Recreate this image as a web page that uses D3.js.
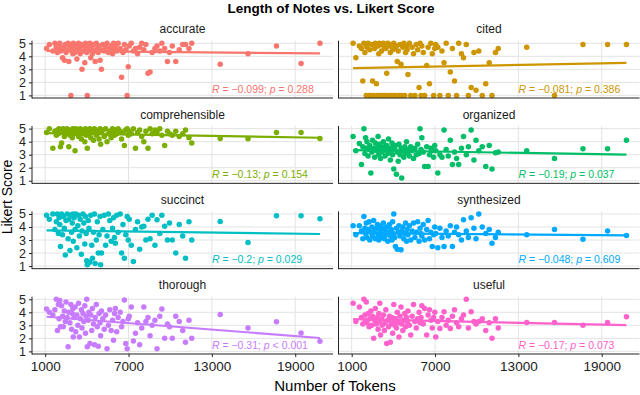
<!DOCTYPE html>
<html><head><meta charset="utf-8">
<script src="https://cdn.jsdelivr.net/npm/d3@7"></script>
<style>body{margin:0;background:#fff} svg{display:block;font-family:"Liberation Sans",Arial,Helvetica,sans-serif}</style>
</head><body><svg id="c" width="640" height="395"></svg>
<script>
const metrics = ["accurate","cited","comprehensible","organized","succinct","synthesized","thorough","useful"];
const colors = ["#F8766D","#CD9600","#7CAE00","#00BE67","#00BFC4","#00A9FF","#C77CFF","#FF61CC"];
const xTicks = [1000, 7000, 13000, 19000];
const yTicks = [1, 2, 3, 4, 5];

const tokens = [
1100,1300,1550,1700,1800,1880,1950,2000,
2050,2100,2180,2250,2300,2380,2450,2500,2580,2650,2700,2780,2850,2900,2950,2990,
3020,3080,3150,3200,3280,3350,3400,3460,3520,3600,3650,3720,3780,3850,3900,3950,3990,
4030,4100,4150,4220,4280,4350,4400,4480,4550,4600,4680,4750,4820,4880,4950,4990,
5050,5150,5250,5350,5450,5550,5650,5750,5850,5920,5990,
6050,6150,6250,6400,6500,6600,6700,6800,6900,6980,
7050,7200,7350,7500,7650,7800,7950,
8100,8250,8400,8550,8700,8900,
9050,9250,9400,9600,9800,9950,
10150,10400,10650,10900,
11100,11350,11550,
13600,15600,17650,19420,20780];

const accurate = [
4.6,4.9,4.4,5.0,4.7,4.3,4.8,4.5,
5.0,4.4,4.7,3.9,4.6,3.7,4.9,4.3,4.5,5.0,3.6,4.8,1.0,4.4,4.7,4.2,
5.0,4.6,4.3,4.9,3.8,4.5,5.0,4.7,4.2,4.9,3.0,4.4,4.8,3.5,5.0,4.6,4.3,
1.0,4.8,4.5,5.0,3.9,4.7,4.2,4.9,4.4,3.6,5.0,4.6,4.3,4.8,3.7,4.5,
3.0,4.9,4.4,4.7,5.0,4.3,4.6,4.8,4.2,5.0,4.5,
4.7,4.4,5.0,4.6,2.4,4.3,4.9,4.5,1.0,3.2,
4.8,5.0,4.4,4.6,4.2,4.7,5.0,
4.5,4.9,2.7,2.8,4.3,4.6,
4.8,4.4,5.0,4.6,3.6,4.3,
4.8,3.6,4.5,4.9,
4.9,4.6,5.0,
3.4,4.2,4.8,3.45,5.0];

const cited = [
5.0,3.9,4.8,4.6,2.1,5.0,4.3,4.9,
1.0,4.7,5.0,1.0,4.5,1.0,4.9,2.1,1.0,4.6,5.0,1.9,1.0,4.8,4.2,5.0,
1.0,4.9,4.4,1.0,5.0,4.7,1.0,4.6,2.7,5.0,1.0,4.8,4.3,1.0,4.9,4.5,1.0,
5.0,4.6,1.0,4.8,3.6,4.4,1.0,4.9,3.4,1.0,4.7,5.0,1.0,4.3,4.8,4.5,
2.6,5.0,1.0,4.7,4.2,1.0,4.9,4.5,1.6,5.0,1.0,
4.8,4.3,1.0,3.3,4.7,1.9,5.0,4.2,1.0,4.6,
4.9,4.7,1.0,4.4,3.5,5.0,1.0,
2.8,4.6,2.1,1.0,5.0,4.2,
3.9,4.9,1.0,1.6,4.3,1.4,
4.4,1.0,1.9,3.5,
1.0,4.3,4.6,
4.7,1.0,4.9,4.9,4.9];

const comprehensible = [
4.7,5.0,3.5,4.8,4.5,4.9,4.6,5.0,
4.8,3.6,3.9,4.7,5.0,4.4,4.9,4.6,5.0,4.8,3.6,4.5,4.9,4.7,4.3,5.0,
4.8,4.6,3.3,5.0,4.7,4.9,4.4,4.8,5.0,4.2,4.6,4.9,4.7,4.0,5.0,4.5,4.8,
3.5,4.9,4.6,5.0,4.3,4.8,4.7,4.1,5.0,4.9,4.5,4.6,4.8,4.2,5.0,3.8,
4.7,4.9,4.4,5.0,4.0,4.6,4.8,4.3,5.0,4.7,4.5,
4.9,4.6,5.0,4.8,4.2,4.7,3.7,4.9,5.0,4.5,
4.8,4.6,5.0,3.5,4.7,4.9,4.4,
4.0,4.8,3.5,5.0,4.6,4.9,
4.7,5.0,4.5,3.7,4.8,4.6,
4.5,4.8,4.4,4.6,
4.9,4.3,3.9,
4.25,4.23,4.7,4.7,4.25];

const organized = [
4.4,3.3,3.85,2.25,3.6,5.0,3.1,4.3,
3.5,4.0,2.9,3.4,3.7,1.6,3.2,4.1,3.5,2.8,3.9,3.3,3.6,4.4,3.0,3.4,
3.8,2.7,3.5,3.2,4.0,3.6,2.9,3.4,3.7,3.1,4.2,3.5,2.6,3.3,3.9,3.0,3.6,
1.9,3.4,3.7,1.5,3.2,2.5,3.8,3.0,3.5,1.2,3.3,2.8,3.6,3.1,4.0,3.4,
3.2,2.9,3.6,3.3,2.7,3.5,3.0,3.8,3.1,5.0,3.4,
4.3,3.2,2.1,3.6,2.1,3.0,3.5,3.3,2.8,3.7,
3.3,1.6,3.0,2.8,4.9,3.4,2.9,
4.1,2.25,3.2,2.7,2.25,3.5,
4.4,3.0,3.6,4.9,2.6,4.1,
3.3,3.6,2.1,3.7,
1.9,3.15,3.2,
3.3,2.7,3.45,3.45,4.1];

const succinct = [
4.9,4.6,5.0,3.8,4.4,5.0,3.5,4.7,
4.2,2.5,5.0,3.4,4.8,3.9,1.85,4.5,5.0,3.1,4.6,2.2,4.9,3.6,4.3,5.0,
2.9,4.7,3.8,5.0,2.4,4.1,4.9,3.3,4.6,1.9,3.7,5.0,4.3,2.7,4.8,3.5,1.4,
1.1,4.5,3.9,1.3,4.9,2.6,1.6,3.6,5.0,1.2,3.0,4.4,2.0,3.4,4.8,1.1,
2.0,3.8,4.9,2.6,3.3,5.0,4.5,2.9,3.9,4.7,3.2,
2.75,4.9,3.6,5.0,2.0,4.2,1.6,3.4,4.8,3.0,
4.6,2.6,1.35,3.8,4.4,2.3,4.0,
4.05,3.0,4.6,3.1,4.9,2.6,
4.55,3.5,4.9,4.05,3.0,4.3,
3.0,2.0,4.2,3.3,
1.6,4.4,3.0,
4.43,2.8,4.87,4.87,4.64];

const synthesized = [
4.1,3.4,4.1,3.7,3.1,4.8,3.9,3.5,
4.3,3.2,3.8,4.4,3.0,3.6,4.0,3.3,4.5,3.7,3.1,3.9,4.2,3.4,3.0,3.8,
4.1,3.5,3.2,3.9,4.3,3.1,3.7,3.4,4.0,2.9,3.6,4.2,3.3,3.8,3.0,4.4,3.5,
5.0,3.2,2.5,3.9,2.3,3.6,4.1,3.3,2.25,3.7,4.0,3.1,3.5,4.3,2.9,3.8,
3.4,4.1,3.0,3.7,4.3,3.2,3.6,4.4,2.9,3.9,3.5,
3.3,4.2,3.0,3.8,4.5,3.1,3.6,2.5,3.4,4.0,
3.5,2.4,3.9,3.2,2.5,3.7,3.3,
4.1,2.5,3.6,4.0,3.4,3.0,
4.55,3.7,3.2,4.7,3.9,3.1,
5.0,4.0,3.5,3.8,
2.75,3.2,3.6,
3.4,3.8,3.06,3.7,3.35];

const thorough = [
4.25,4.0,3.8,4.2,5.0,2.6,4.6,3.5,
4.9,2.9,4.5,3.7,2.9,4.1,3.3,4.8,3.6,1.35,4.0,3.2,4.6,2.7,3.9,4.3,
2.1,3.6,4.4,2.5,3.8,3.0,4.7,2.1,3.5,4.2,2.8,3.9,3.3,4.5,2.4,3.7,5.0,
1.35,3.4,4.0,1.6,3.8,2.6,4.3,3.1,1.5,3.6,4.6,2.9,1.4,3.9,3.2,2.2,
4.1,3.5,2.7,3.8,1.2,3.0,4.2,2.6,3.4,1.85,3.9,
4.3,2.5,3.6,4.0,2.9,3.3,4.95,1.6,1.2,3.5,
3.7,4.4,1.8,2.4,3.2,1.5,2.8,
4.4,3.3,3.6,2.2,3.0,3.4,
1.2,3.7,4.25,2.0,3.1,2.9,
2.0,3.7,3.3,2.6,
1.7,3.4,2.0,
3.84,2.8,3.27,2.42,1.77];

const useful = [
4.7,3.3,4.4,3.6,3.1,5.0,3.8,3.4,
4.8,3.2,3.9,2.9,3.5,4.1,3.0,3.7,2.0,3.4,4.3,3.1,3.6,2.7,3.9,3.3,
4.7,2.25,3.5,3.0,3.8,2.6,3.2,4.2,1.6,3.4,2.9,3.7,1.7,3.1,3.6,2.4,3.3,
4.6,3.0,3.5,2.8,4.0,3.2,2.1,3.7,4.4,3.1,2.6,3.4,3.9,2.9,3.6,3.3,
4.1,3.0,2.25,3.7,4.6,3.3,2.8,3.5,4.0,3.2,3.6,
4.5,3.1,4.3,2.25,3.8,4.2,3.4,2.8,3.6,4.0,
2.1,3.3,2.75,3.6,4.05,3.0,3.4,
2.75,3.7,4.2,3.2,2.9,3.5,
3.8,5.0,2.8,4.05,3.3,3.1,
3.3,3.5,2.6,3.2,
2.0,3.5,2.8,
3.22,3.22,3.0,3.22,3.66];

const scores = [accurate, cited, comprehensible, organized, succinct, synthesized, thorough, useful];
// fitted trend values at the smallest and largest token counts
const fitStart = [4.42, 3.1, 4.65, 3.35, 3.74, 3.53, 3.66, 3.48];
const fitEnd   = [4.22, 3.5, 4.3, 3.0, 3.46, 3.35, 2.03, 3.01];
const rLabels = ["\u22120.099","\u22120.081","\u22120.13","\u22120.19","\u22120.2","\u22120.048","\u22120.31","\u22120.17"];
const pLabels = ["= 0.288","= 0.386","= 0.154","= 0.037","= 0.029","= 0.609","< 0.001","= 0.073"];

const svg = d3.select("#c");
const panelW = 301, panelH = 57.3;
const lefts = [32, 338.5];
const top0 = 40.7, rowStep = 85.33;

const x = d3.scaleLinear().domain([50, 21720]).range([0, panelW]);
const y = d3.scaleLinear().domain([0.8, 5.2]).range([panelH, 0]);

// Title
svg.append("text").attr("x", 331).attr("y", 12.5).attr("text-anchor", "middle")
  .attr("font-size", 13.5).attr("font-weight", "bold").attr("fill", "#000")
  .text("Length of Notes vs. Likert Score");

metrics.forEach((m, i) => {
  const col = i % 2, row = Math.floor(i / 2);
  const g = svg.append("g").attr("transform", `translate(${lefts[col]},${top0 + row * rowStep})`);
  g.append("text").attr("x", panelW / 2).attr("y", -7.5).attr("text-anchor", "middle")
    .attr("font-size", 12).attr("fill", "#1a1a1a").text(m);
  g.append("g").selectAll("line").data(xTicks).join("line")
    .attr("x1", d => x(d)).attr("x2", d => x(d)).attr("y1", 0).attr("y2", panelH)
    .attr("stroke", "#e3e3e3").attr("stroke-width", 1);
  g.append("g").selectAll("line").data(yTicks).join("line")
    .attr("x1", 0).attr("x2", panelW).attr("y1", d => y(d)).attr("y2", d => y(d))
    .attr("stroke", "#e3e3e3").attr("stroke-width", 1);
  const pts = tokens.map((t, k) => [t, scores[i][k]]);
  g.append("g").selectAll("circle").data(pts).join("circle")
    .attr("cx", d => x(d[0])).attr("cy", d => y(d[1])).attr("r", 2.75)
    .attr("fill", colors[i]);
  const xMin = d3.min(tokens), xMax = d3.max(tokens);
  g.append("path").datum([[xMin, fitStart[i]], [xMax, fitEnd[i]]])
    .attr("d", d3.line().x(d => x(d[0])).y(d => y(d[1])))
    .attr("stroke", colors[i]).attr("stroke-width", 2.2).attr("fill", "none");
  const t = g.append("text").attr("x", x(13000)).attr("y", y(1.45)).attr("dominant-baseline", "middle")
    .attr("font-size", 10.5).attr("fill", colors[i]);
  t.append("tspan").attr("font-style", "italic").text("R");
  t.append("tspan").text(" = " + rLabels[i] + "; ");
  t.append("tspan").attr("font-style", "italic").text("p");
  t.append("tspan").text(" " + pLabels[i]);
  g.append("line").attr("x1", 0).attr("x2", 0).attr("y1", 0).attr("y2", panelH + 0.5)
    .attr("stroke", "#222").attr("stroke-width", 1);
  g.append("line").attr("x1", 0).attr("x2", panelW).attr("y1", panelH).attr("y2", panelH)
    .attr("stroke", "#222").attr("stroke-width", 1);
  if (col === 0) {
    const ay = g.append("g").call(d3.axisLeft(y).tickValues(yTicks).tickSize(3).tickPadding(3).tickFormat(d3.format("d")));
    ay.select(".domain").remove();
    ay.selectAll("line").attr("stroke", "#222");
    ay.selectAll("text").attr("font-size", 12.5).attr("fill", "#222").attr("font-family", "Liberation Sans, Arial, sans-serif");
  }
  if (row === 3) {
    const ax = g.append("g").attr("transform", `translate(0,${panelH})`)
      .call(d3.axisBottom(x).tickValues(xTicks).tickSize(3).tickPadding(4).tickFormat(d3.format("d")));
    ax.select(".domain").remove();
    ax.selectAll("line").attr("stroke", "#222");
    ax.selectAll("text").attr("font-size", 13.5).attr("fill", "#222").attr("font-family", "Liberation Sans, Arial, sans-serif");
  }
});

svg.append("text").attr("transform", "translate(12,197) rotate(-90)").attr("text-anchor", "middle")
  .attr("font-size", 14).attr("fill", "#000").text("Likert Score");
svg.append("text").attr("x", 335).attr("y", 391).attr("text-anchor", "middle")
  .attr("font-size", 15).attr("fill", "#000").text("Number of Tokens");
</script></body></html>
